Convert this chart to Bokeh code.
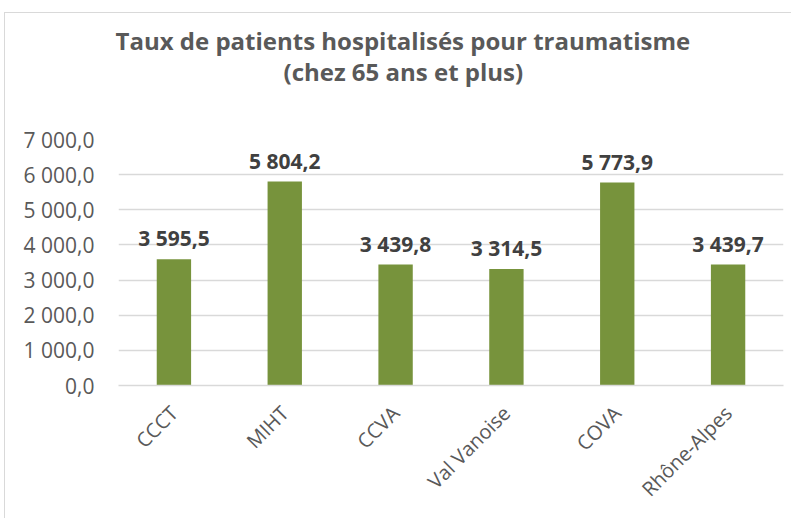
import math
from bokeh.plotting import figure
from bokeh.models import ColumnDataSource, FactorRange, Range1d, Title, FixedTicker
from bokeh.core.properties import value
from bokeh.embed import file_html
from bokeh.resources import INLINE

# Hospitalisation rate for trauma, people aged 65 and over
territories = ["CCCT", "MIHT", "CCVA", "Val Vanoise", "COVA", "Rhône-Alpes"]
rates = [3595.5, 5804.2, 3439.8, 3314.5, 5773.9, 3439.7]
rate_labels = ["3 595,5", "5 804,2", "3 439,8", "3 314,5", "5 773,9", "3 439,7"]
y_ticks = [0, 1000, 2000, 3000, 4000, 5000, 6000, 7000]
y_tick_labels = ["0,0", "1 000,0", "2 000,0", "3 000,0", "4 000,0",
                 "5 000,0", "6 000,0", "7 000,0"]

FONT = "Open Sans"
GREY = "#595959"

src = ColumnDataSource(dict(x=territories, y=rates, lab=rate_labels))

p = figure(
    width=787, height=506,
    x_range=FactorRange(*territories, range_padding=0),
    y_range=Range1d(0, 7000),
    output_backend="svg", toolbar_location=None,
    min_border_left=113, min_border_right=9,
    min_border_top=126, min_border_bottom=134,
)
p.margin = (12, 0, 0, 4)
p.styles = {"border-top": "1px solid #d9d9d9", "border-left": "1px solid #d9d9d9"}
p.outline_line_color = None

p.vbar(x="x", top="y", width=0.31, source=src, fill_color="#77933c",
       line_color=None)

p.text(x="x", y="y", text="lab", source=src, text_align="center",
       text_baseline="bottom", y_offset=-7, text_font=value(FONT),
       text_font_style="bold", text_font_size="21px", text_color="#404040")

# y axis
p.yaxis.ticker = FixedTicker(ticks=y_ticks)
p.yaxis.major_label_overrides = {t: l for t, l in zip(y_ticks, y_tick_labels)}
p.yaxis.axis_line_color = None
p.yaxis.major_tick_line_color = None
p.yaxis.minor_tick_line_color = None
p.yaxis.major_label_text_font = FONT
p.yaxis.major_label_text_font_size = "21px"
p.yaxis.major_label_text_color = GREY
p.yaxis.major_label_standoff = 18

# x axis
p.xaxis.axis_line_color = "#d9d9d9"
p.xaxis.axis_line_width = 1.5
p.xaxis.major_tick_line_color = None
p.xaxis.major_label_orientation = math.pi / 4
p.xaxis.major_label_text_font = FONT
p.xaxis.major_label_text_font_size = "20px"
p.xaxis.major_label_text_color = GREY
p.xaxis.major_label_standoff = 18

p.xgrid.grid_line_color = None
p.ygrid.grid_line_color = "#d9d9d9"
p.ygrid.grid_line_width = 1.5

# blank panel keeping the title block clear of the plot area
p.add_layout(Title(text=" ", standoff=17, text_font=FONT,
                   text_font_size="24px"), "above")

# two-line chart title (panels stack outward, so the second line goes in first)
for txt, off, gap in [("(chez 65 ans et plus)", 165, 0),
                      ("Taux de patients hospitalisés pour traumatisme", -3, -9)]:
    p.add_layout(Title(text=txt, align="left", offset=off, standoff=gap,
                       text_font=FONT, text_font_style="bold",
                       text_font_size="24px", text_color=GREY), "above")

open("out.html", "w").write(file_html(p, INLINE))
